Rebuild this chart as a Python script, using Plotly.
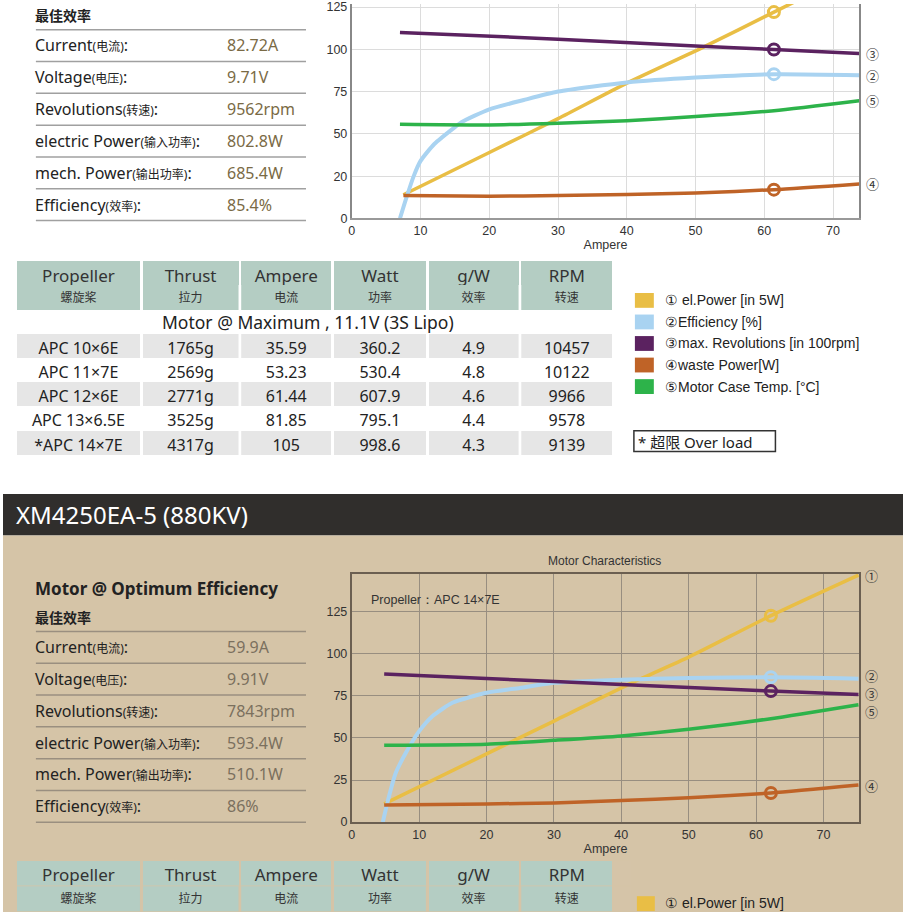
import plotly.graph_objects as go

W, H = 903, 919


def X(p):
    return p / W


def Y(p):
    return 1 - p / H


# ---------------- data ----------------
info_en = ["Current", "Voltage", "Revolutions", "electric Power", "mech. Power", "Efficiency"]
info_zh = ["电流", "电压", "转速", "输入功率", "输出功率", "效率"]
top_info_values = ["82.72A", "9.71V", "9562rpm", "802.8W", "685.4W", "85.4%"]
bottom_info_values = ["59.9A", "9.91V", "7843rpm", "593.4W", "510.1W", "86%"]

series_names = ["① el.Power [in 5W]", "②Efficiency [%]", "③max. Revolutions [in 100rpm]",
                "④waste Power[W]", "⑤Motor Case Temp. [°C]"]
series_marks = ["①", "②", "③", "④", "⑤"]
series_colors = ["#e9be45", "#a9d3f1", "#5b2260", "#bf6327", "#2db34a"]

# upper chart (first motor)
top_power_a = [7.5, 20, 30, 40, 51, 61.4, 73.8]
top_power = [14, 39, 59, 80, 101, 122, 147]
top_eff_a = [7, 8, 9, 10, 12, 15, 16, 20, 25, 30, 40, 50, 61.4, 73.8]
top_eff = [0, 13, 25, 34, 44, 54, 57, 64.5, 70, 75, 80.4, 83.3, 85.3, 84.7]
top_rev_a = [7, 30, 50, 61.4, 73.8]
top_rev = [110, 106, 102, 99.9, 97.5]
top_waste_a = [7.5, 20, 30, 40, 50, 61.4, 73.8]
top_waste = [13.5, 13.1, 13.5, 14.1, 15, 17, 20.4]
top_temp_a = [7, 20, 30, 40, 50, 61.4, 73.8]
top_temp = [55.7, 55.3, 56.3, 57.8, 60.2, 63.7, 69.6]
top_opt_a = 61.4
top_opt = [122, 85.3, 99.9, 17]

# lower chart (XM4250EA-5)
bot_power_a = [4.8, 20, 30, 41.7, 50, 62.2, 75.2]
bot_power = [10.8, 40.5, 60, 83, 98, 122.6, 146.7]
bot_eff_a = [4.6, 5.5, 6.5, 8, 10, 12, 15, 20, 25, 30, 40, 50, 62.2, 75.2]
bot_eff = [0, 15, 29, 41, 54, 63, 71, 76.8, 79.7, 82.7, 84.6, 85.6, 86, 85.2]
bot_rev_a = [4.8, 20, 40, 62.2, 75.2]
bot_rev = [88, 85.3, 81.7, 77.8, 75.8]
bot_waste_a = [4.8, 20, 30, 40, 50, 62.2, 75.2]
bot_waste = [10.2, 10.8, 11.4, 12.8, 14.4, 17.3, 22]
bot_temp_a = [4.8, 20, 30, 40, 50, 62.2, 75.2]
bot_temp = [45.7, 46.3, 48.6, 51.2, 55.1, 61.4, 69.7]
bot_opt_a = 62.2
bot_opt = [122.6, 86, 77.8, 17.3]

# propeller table
head_en = ["Propeller", "Thrust", "Ampere", "Watt", "g/W", "RPM"]
head_zh = ["螺旋桨", "拉力", "电流", "功率", "效率", "转速"]
propellers = ["APC 10×6E", "APC 11×7E", "APC 12×6E", "APC 13×6.5E", "*APC 14×7E"]
thrust = ["1765g", "2569g", "2771g", "3525g", "4317g"]
ampere = ["35.59", "53.23", "61.44", "81.85", "105"]
watt = ["360.2", "530.4", "607.9", "795.1", "998.6"]
gw = ["4.9", "4.8", "4.6", "4.4", "4.3"]
rpm = ["10457", "10122", "9966", "9578", "9139"]

CH = "Liberation Sans, Arial, sans-serif"
TX = "Noto Sans, Noto Sans CJK SC, sans-serif"
TAN = "#d5c4a7"
HEAD = "#b4cdc3"

fig = go.Figure()

# ---------------- charts ----------------
charts = [
    ("x", "y", [(top_power_a, top_power), (top_eff_a, top_eff), (top_rev_a, top_rev),
                (top_waste_a, top_waste), (top_temp_a, top_temp)], top_opt_a, top_opt, {}),
    ("x2", "y2", [(bot_power_a, bot_power), (bot_eff_a, bot_eff), (bot_rev_a, bot_rev),
                  (bot_waste_a, bot_waste), (bot_temp_a, bot_temp)], bot_opt_a, bot_opt,
     {1: 3, 2: 1, 4: -7}),
]
for xa, ya, series, opt_a, opt, _ in charts:
    for i, (xs, ys) in enumerate(series):
        fig.add_trace(go.Scatter(x=xs, y=ys, mode="lines", xaxis=xa, yaxis=ya,
                                 line=dict(color=series_colors[i], width=4 if i == 1 else 3.5,
                                           shape="spline", smoothing=0.6),
                                 showlegend=False, hoverinfo="skip"))
    fig.add_trace(go.Scatter(x=[opt_a] * 4, y=opt, mode="markers", xaxis=xa, yaxis=ya,
                             marker=dict(symbol="circle-open", size=11, color=series_colors[:4],
                                         line=dict(width=3, color=series_colors[:4])),
                             showlegend=False, hoverinfo="skip"))

annotations = []


def note(x, y, text, size, color="#222", family=TX, xanchor="left", **kw):
    annotations.append(dict(x=x, y=y, xref=kw.pop("xref", "paper"), yref=kw.pop("yref", "paper"),
                            text=text, showarrow=False, xanchor=xanchor, yanchor="middle",
                            font=dict(family=family, size=size, color=color), **kw))


for xa, ya, series, _, _, shifts in charts:
    for i, (xs, ys) in enumerate(series):
        note(xs[-1], ys[-1], series_marks[i], 13, "#333", "Noto Sans CJK SC", xref=xa, yref=ya,
             xshift=5, yshift=shifts.get(i, 0))

note(X(604), Y(564), "Motor Characteristics", 12, "#333", CH, "center")
note(2.6, 132, "Propeller：APC 14×7E", 12.5, "#333", CH, xref="x2", yref="y2")

# ---------------- tables (one column per table, gaps act as separators) ----------------
col_edges = [(14, 138), (140, 237), (239, 330), (332, 425), (427, 518), (520, 612)]
columns = [propellers, thrust, ampere, watt, gw, rpm]
row_fill = ["white", "#e6e6e6", "white", "#e6e6e6", "white", "#e6e6e6"]
no_line = dict(color=HEAD, width=0)

# (top of header, English row height, Chinese row height, bottom of table, with body cells)
table_blocks = [(260, 24.5, 24.5, 480, True), (867, 26, 26, 919, False)]
for j, (a, b) in enumerate(col_edges):
    for top, h_en, h_zh, bottom, with_cells in table_blocks:
        fig.add_trace(go.Table(
            domain=dict(x=[X(a), X(b)], y=[Y(top + h_en), Y(top)]),
            header=dict(values=[head_en[j]], fill_color=HEAD, line=no_line, align="center",
                        height=h_en, font=dict(family=TX, size=17, color="#333")),
            cells=dict(values=[[]]),
        ))
        body = [[""] + columns[j]] if with_cells else [[]]
        fig.add_trace(go.Table(
            domain=dict(x=[X(a), X(b)], y=[Y(bottom), Y(top + h_en)]),
            header=dict(values=[head_zh[j]], fill_color=HEAD, line=no_line, align="center",
                        height=h_zh, font=dict(family=TX, size=12, color="#333")),
            cells=dict(values=body, fill_color=[row_fill], line=dict(color="white", width=0),
                       align="center", height=24.2, font=dict(family=TX, size=16, color="#222")),
        ))
note(X(306), Y(322), "Motor @ Maximum , 11.1V (3S Lipo)", 17.5, "#222", TX, "center")

# ---------------- page decoration ----------------
shapes = [
    dict(type="rect", xref="paper", yref="paper", x0=0, x1=1, y0=Y(538), y1=Y(496),
         fillcolor="#302e2c", line_width=0, layer="below"),
    dict(type="rect", xref="paper", yref="paper", x0=0, x1=1, y0=0, y1=Y(538),
         fillcolor=TAN, line_width=0, layer="below"),
    dict(type="rect", xref="paper", yref="paper", x0=X(633), x1=X(775), y0=Y(453), y1=Y(432),
         fillcolor="rgba(0,0,0,0)", line=dict(color="#333", width=1.5)),
]
note(X(11), Y(517), "XM4250EA-5 (880KV)", 24, "white", "Liberation Sans Narrow, Noto Sans")
note(X(635), Y(443), "* 超限 Over load", 15)

# legends
for i, name in enumerate(series_names):
    yc = 300 + i * 21.8
    shapes.append(dict(type="rect", xref="paper", yref="paper", x0=X(634), x1=X(653),
                       y0=Y(yc + 7.5), y1=Y(yc - 7.5), fillcolor=series_colors[i], line_width=0))
    note(X(662), Y(yc), name, 14, "#222", CH)
shapes.append(dict(type="rect", xref="paper", yref="paper", x0=X(636), x1=X(654),
                   y0=Y(918), y1=Y(903), fillcolor=series_colors[0], line_width=0))
note(X(662), Y(910), series_names[0], 14, "#222", CH)

# info blocks on the left
info_blocks = [(0, top_info_values, "#7a6a45", "#a0a0a0"), (609, bottom_info_values, "#7b705e", "#9a8f80")]
for top, vals, vcol, rcol in info_blocks:
    if top:
        note(X(30), Y(592), "<b>Motor @ Optimum Efficiency</b>", 17)
    note(X(30), Y(top + 11), "<b>最佳效率</b>", 14, "#222", "Noto Sans CJK SC")
    for k in range(7):
        yl = top + 26 + k * 32.2
        shapes.append(dict(type="line", xref="paper", yref="paper", x0=X(33), x1=X(304),
                           y0=Y(yl), y1=Y(yl), line=dict(color=rcol, width=1.5)))
    for k, (e, z) in enumerate(zip(info_en, info_zh)):
        yc = top + 42 + k * 32.2
        note(X(30), Y(yc), f"{e}<span style='font-size:12px'>({z})</span>:", 16)
        note(X(223), Y(yc), vals[k], 16, vcol)

# ---------------- axes ----------------
axis_font = dict(family=CH, size=12.5, color="#333")
fig.update_layout(
    width=W, height=H, margin=dict(l=0, r=0, t=0, b=0),
    paper_bgcolor="white", plot_bgcolor="rgba(0,0,0,0)",
    showlegend=False, shapes=shapes, annotations=annotations,
    xaxis=dict(domain=[X(350), X(859)], range=[0, 73.8], dtick=10, showgrid=True, gridcolor="#dcdcdc",
               zeroline=False, showline=True, linecolor="#999", linewidth=2, mirror=False,
               tickfont=axis_font, anchor="y",
               title=dict(text="Ampere", font=axis_font, standoff=0)),
    yaxis=dict(domain=[Y(217), 1], range=[0, 126.8], tickvals=[0, 25, 50, 75, 100, 125],
               ticktext=["0", "20", "50", "75", "100", "125"], showgrid=True, gridcolor="#dcdcdc",
               zeroline=False, showline=True, linecolor="#888", linewidth=2, mirror=True,
               tickfont=axis_font, anchor="x", ticklabeloverflow="allow"),
    xaxis2=dict(domain=[X(350), X(859)], range=[0, 75.3], dtick=10, showgrid=True, gridcolor="#988e80",
                zeroline=False, showline=True, linecolor="#6b5f51", linewidth=2, mirror=True,
                tickfont=axis_font, anchor="y2",
                title=dict(text="Ampere", font=axis_font, standoff=0)),
    yaxis2=dict(domain=[Y(828), Y(577)], range=[0, 147.3], tickvals=[0, 25, 50, 75, 100, 125],
                showgrid=True, gridcolor="#988e80", zeroline=False, showline=True,
                linecolor="#6b5f51", linewidth=2, mirror=True, tickfont=axis_font, anchor="x2"),
)

fig.write_html("out.html", config={"displayModeBar": False},
               post_script="document.body.style.margin = '0';")
